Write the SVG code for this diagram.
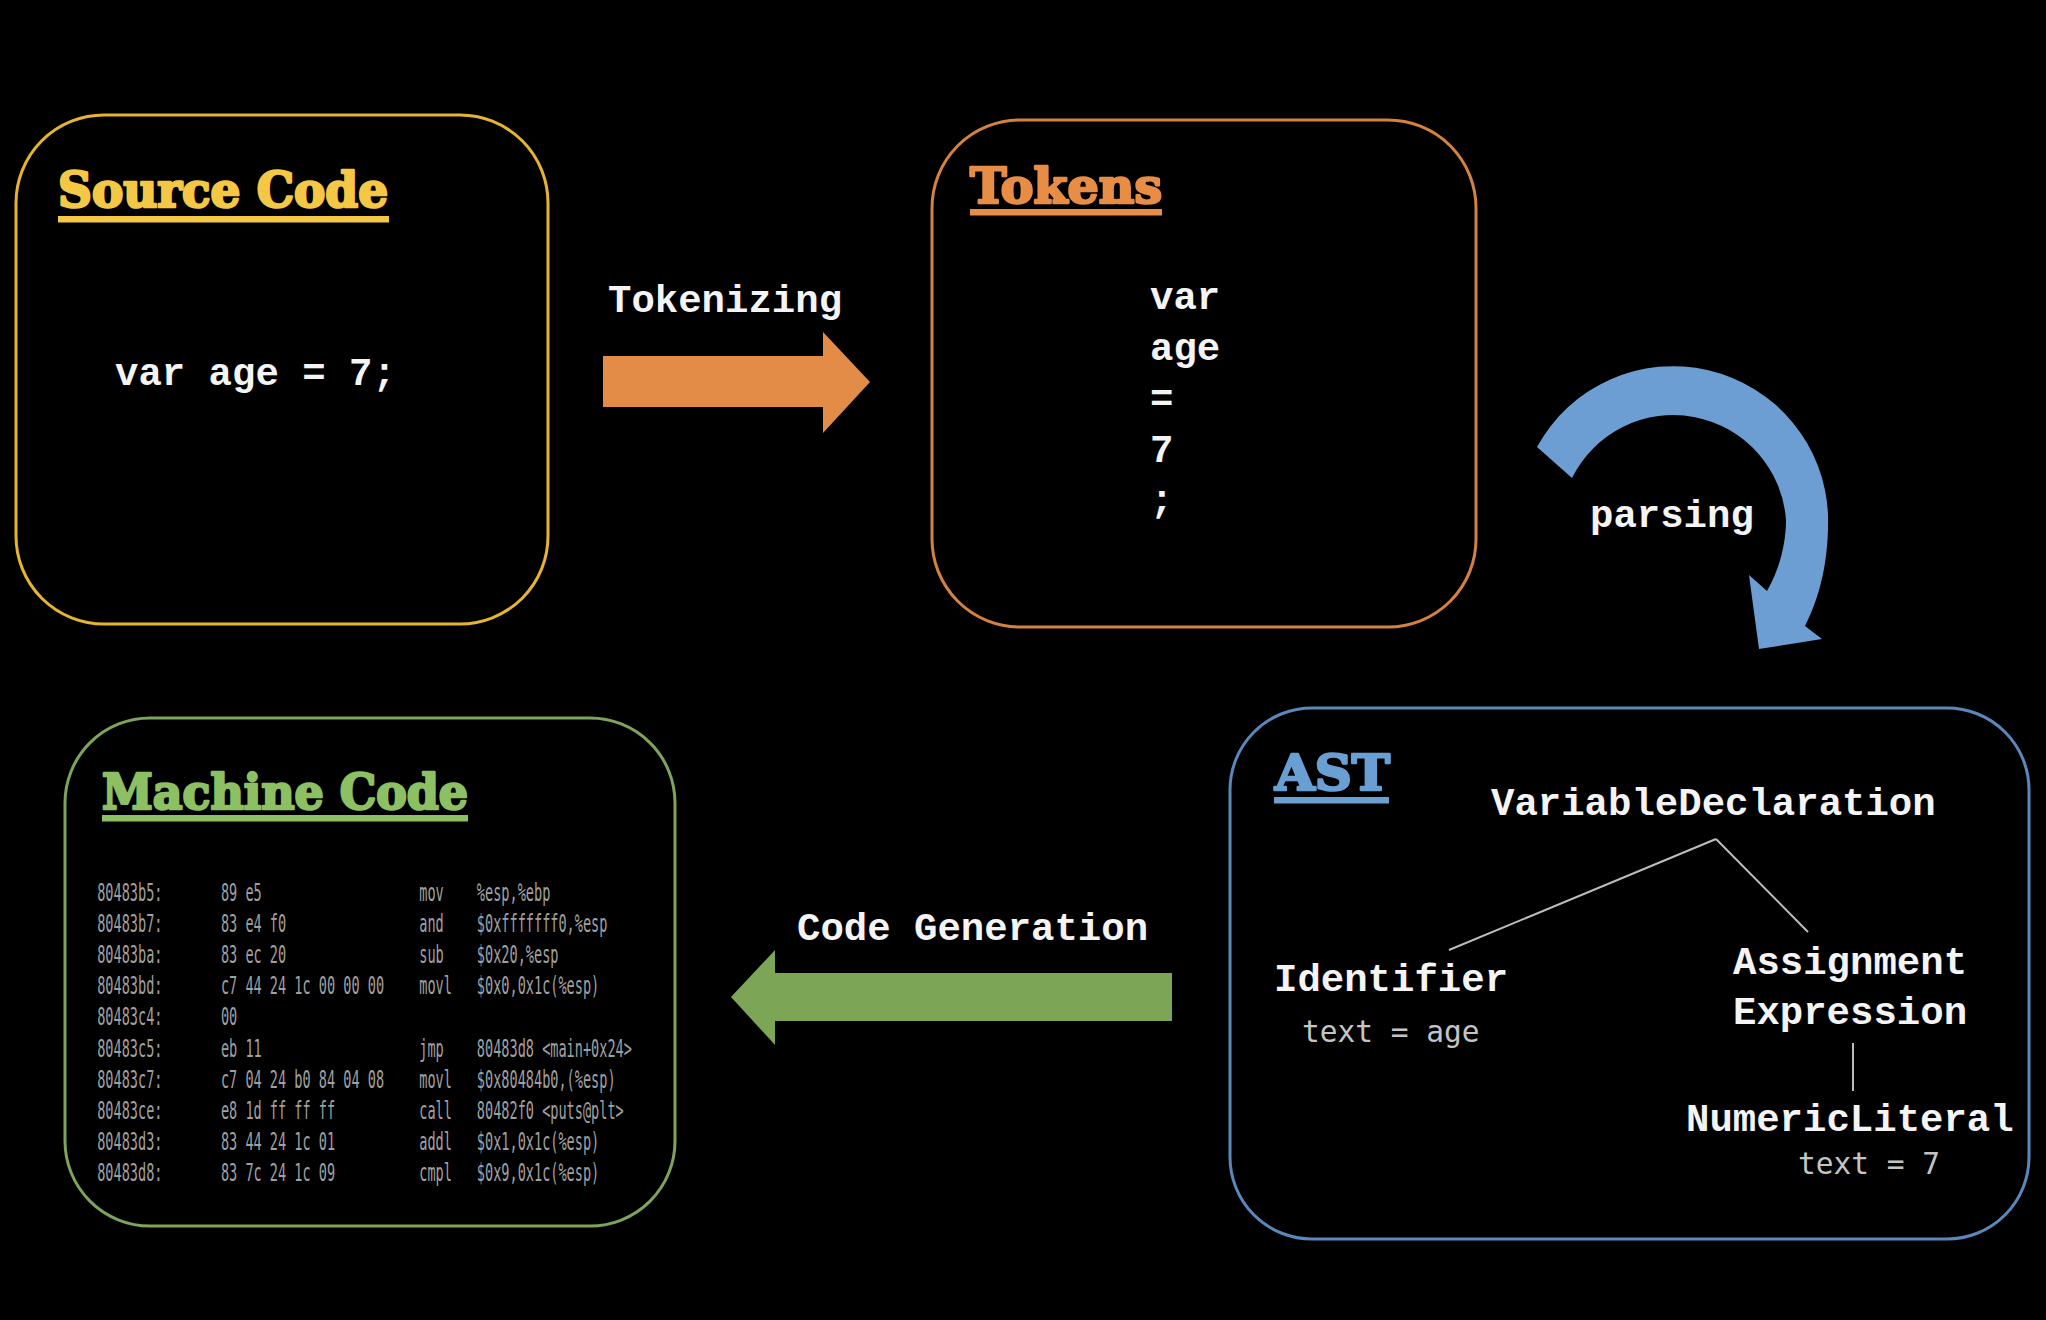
<svg xmlns="http://www.w3.org/2000/svg" width="2046" height="1320" viewBox="0 0 2046 1320">
<style>
.box{fill:none;stroke-width:3}
.title{font-family:"DejaVu Serif","Liberation Serif",serif;font-weight:bold;font-size:48px;stroke-width:2.6;stroke-linejoin:round}
.mono{font-family:"Liberation Mono","Courier New",monospace;font-weight:bold;font-size:39px;fill:#f4f4f4}
.attr{font-family:"DejaVu Sans Mono","Liberation Mono",monospace;font-size:29.5px;fill:#c4c4c4}
.asm{font-family:"DejaVu Sans Mono","Liberation Mono",monospace;font-size:24px;fill:#a0a0a0}
.tree{stroke:#bdbdbd;stroke-width:2;fill:none}
</style>
<rect width="2046" height="1320" fill="#000"/>

<g id="source-code">
<rect class="box" x="16" y="115" width="532" height="509" rx="88" stroke="#e6b52e"/>
<text class="title" x="58" y="207" textLength="330" lengthAdjust="spacingAndGlyphs" fill="#f4c744" stroke="#f4c744">Source Code</text>
<rect x="58" y="216" width="331" height="6.5" fill="#f4c744"/>
<text class="mono" x="115" y="385">var age = 7;</text>
</g>

<g id="tokens">
<rect class="box" x="932" y="120" width="544" height="507" rx="88" stroke="#d4823f"/>
<text class="title" x="970" y="203" textLength="192" lengthAdjust="spacingAndGlyphs" fill="#e88d45" stroke="#e88d45">Tokens</text>
<rect x="970" y="209" width="192" height="6.5" fill="#e88d45"/>
<text class="mono" x="1150" y="309">var</text>
<text class="mono" x="1150" y="360">age</text>
<text class="mono" x="1150" y="411">=</text>
<text class="mono" x="1150" y="462">7</text>
<text class="mono" x="1150" y="512">;</text>
</g>

<g id="ast">
<rect class="box" x="1230" y="708" width="799" height="531" rx="82" stroke="#5b88bc"/>
<text class="title" x="1275" y="790" textLength="115" lengthAdjust="spacingAndGlyphs" fill="#6a9fd4" stroke="#6a9fd4">AST</text>
<rect x="1274" y="797" width="115" height="6.5" fill="#6a9fd4"/>
<text class="mono" x="1491" y="815">VariableDeclaration</text>
<line class="tree" x1="1716" y1="839" x2="1449" y2="950"/>
<line class="tree" x1="1716" y1="839" x2="1808" y2="932"/>
<text class="mono" x="1274" y="991">Identifier</text>
<text class="attr" x="1302" y="1042">text = age</text>
<text class="mono" x="1733" y="974">Assignment</text>
<text class="mono" x="1733" y="1024">Expression</text>
<line class="tree" x1="1853" y1="1043" x2="1853" y2="1091"/>
<text class="mono" x="1686" y="1131">NumericLiteral</text>
<text class="attr" x="1798" y="1174">text = 7</text>
</g>

<g id="machine-code">
<rect class="box" x="65" y="718" width="610" height="508" rx="85" stroke="#7ea35a"/>
<text class="title" x="102" y="809" textLength="366" lengthAdjust="spacingAndGlyphs" fill="#8cc063" stroke="#8cc063">Machine Code</text>
<rect x="102" y="815" width="366" height="6.5" fill="#8cc063"/>
<g transform="scale(0.565,1)" class="asm">
<text x="172" y="901">80483b5:</text><text x="391" y="901">89 e5</text><text x="742" y="901">mov</text><text x="844" y="901">%esp,%ebp</text>
<text x="172" y="932">80483b7:</text><text x="391" y="932">83 e4 f0</text><text x="742" y="932">and</text><text x="844" y="932">$0xfffffff0,%esp</text>
<text x="172" y="963">80483ba:</text><text x="391" y="963">83 ec 20</text><text x="742" y="963">sub</text><text x="844" y="963">$0x20,%esp</text>
<text x="172" y="994">80483bd:</text><text x="391" y="994">c7 44 24 1c 00 00 00</text><text x="742" y="994">movl</text><text x="844" y="994">$0x0,0x1c(%esp)</text>
<text x="172" y="1025">80483c4:</text><text x="391" y="1025">00</text>
<text x="172" y="1057">80483c5:</text><text x="391" y="1057">eb 11</text><text x="742" y="1057">jmp</text><text x="844" y="1057">80483d8 &lt;main+0x24&gt;</text>
<text x="172" y="1088">80483c7:</text><text x="391" y="1088">c7 04 24 b0 84 04 08</text><text x="742" y="1088">movl</text><text x="844" y="1088">$0x80484b0,(%esp)</text>
<text x="172" y="1119">80483ce:</text><text x="391" y="1119">e8 1d ff ff ff</text><text x="742" y="1119">call</text><text x="844" y="1119">80482f0 &lt;puts@plt&gt;</text>
<text x="172" y="1150">80483d3:</text><text x="391" y="1150">83 44 24 1c 01</text><text x="742" y="1150">addl</text><text x="844" y="1150">$0x1,0x1c(%esp)</text>
<text x="172" y="1181">80483d8:</text><text x="391" y="1181">83 7c 24 1c 09</text><text x="742" y="1181">cmpl</text><text x="844" y="1181">$0x9,0x1c(%esp)</text>
</g>
</g>

<g id="connectors">
<g id="tokenizing">
<polygon points="603,356 823,356 823,332 870,382 823,433 823,407 603,407" fill="#e38c48"/>
<text class="mono" x="608" y="312">Tokenizing</text>
</g>
<g id="parsing">
<path d="M1537,447 A155,155 0 0 1 1828,515 C1829,560 1820,597 1805,626 L1822,639 L1759,649 L1749,575 L1767,591 C1779,570 1786,545 1786,520 A113,113 0 0 0 1572,478 Z" fill="#6d9ed3"/>
<text class="mono" x="1590" y="527">parsing</text>
</g>
<g id="code-generation">
<polygon points="1172,973 775,973 775,950 731,997 775,1045 775,1021 1172,1021" fill="#7ca556"/>
<text class="mono" x="797" y="940">Code Generation</text>
</g>
</g>
</svg>
